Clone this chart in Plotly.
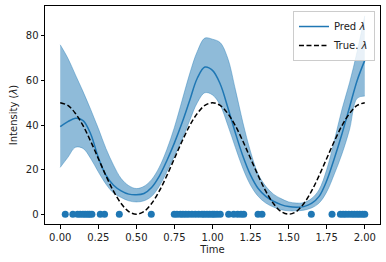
import plotly.graph_objects as go

t = [round(0.05 * i, 2) for i in range(41)]

pred = [39.3, 41.5, 43.0, 42.0, 36.0, 25.5, 17.5, 13.0, 10.5, 9.0, 8.7, 9.3, 12.0, 17.0, 24.0, 32.0,
        41.0, 51.0, 61.0, 66.0, 64.5, 58.5, 48.0, 36.5, 26.0, 17.5, 11.5, 8.0, 5.8, 4.3, 3.4, 3.1,
        3.4, 4.8, 8.0, 15.0, 25.0, 36.0, 48.0, 60.0, 69.0]

upper = [76.0, 70.0, 62.5, 55.0, 47.0, 38.5, 29.5, 22.0, 16.0, 12.8, 11.5, 12.5, 15.5, 21.0, 29.0, 39.0,
         51.0, 63.0, 73.0, 79.0, 78.5, 77.0, 70.0, 56.0, 41.0, 28.0, 18.0, 12.5, 9.0, 7.0, 5.5, 5.0,
         5.2, 7.0, 11.0, 20.0, 33.0, 47.0, 59.0, 73.0, 89.0]

lower = [21.0, 25.5, 30.0, 29.5, 25.0, 19.0, 13.5, 9.5, 7.5, 6.0, 5.5, 6.0, 8.0, 12.5, 19.0, 26.0,
         33.5, 42.0, 50.0, 54.5, 53.5, 49.0, 40.0, 30.0, 20.5, 13.0, 8.0, 5.0, 3.2, 2.0, 1.5, 1.5,
         1.8, 2.8, 5.0, 10.0, 18.0, 27.0, 38.0, 52.0, 53.0]

true_lam = [50.0, 48.8, 45.2, 39.7, 32.7, 25.0, 17.3, 10.3, 4.8, 1.2, 0.0, 1.2, 4.8, 10.3, 17.3, 25.0,
            32.7, 39.7, 45.2, 48.8, 50.0, 48.8, 45.2, 39.7, 32.7, 25.0, 17.3, 10.3, 4.8, 1.2, 0.0, 1.2,
            4.8, 10.3, 17.3, 25.0, 32.7, 39.7, 45.2, 48.8, 50.0]

events = [0.033, 0.083, 0.114, 0.131, 0.149, 0.164, 0.18, 0.193, 0.208, 0.263, 0.291, 0.388, 0.598,
          0.749, 0.767, 0.789, 0.806, 0.824, 0.843, 0.865, 0.887, 0.909, 0.931, 0.946, 0.964, 0.981,
          0.999, 1.012, 1.03, 1.051, 1.106, 1.139, 1.165, 1.187, 1.205, 1.299, 1.325, 1.649, 1.785,
          1.84, 1.858, 1.875, 1.895, 1.915, 1.932, 1.95, 1.967, 1.985, 2.0]

BLUE = "#1f77b4"
FILL = "rgba(31,119,180,0.5)"
FONT = "DejaVu Sans"

fig = go.Figure()
fig.add_trace(go.Scatter(x=t, y=lower, mode="lines", line=dict(color=FILL, width=0.8, shape="spline"),
                         showlegend=False, hoverinfo="skip"))
fig.add_trace(go.Scatter(x=t, y=upper, mode="lines", line=dict(color=FILL, width=0.8, shape="spline"),
                         fill="tonexty", fillcolor=FILL, showlegend=False, hoverinfo="skip"))
fig.add_trace(go.Scatter(x=t, y=pred, mode="lines", name="Pred <i>λ</i>",
                         line=dict(color=BLUE, width=1.5, shape="spline")))
fig.add_trace(go.Scatter(x=t, y=true_lam, mode="lines", name="True. <i>λ</i>",
                         line=dict(color="black", width=1.5, dash="5px,2.5px", shape="spline")))
fig.add_trace(go.Scatter(x=events, y=[0] * len(events), mode="markers", showlegend=False,
                         marker=dict(color=BLUE, size=7, line=dict(width=0))))

axis_common = dict(showgrid=False, zeroline=False, showline=True, linecolor="black", linewidth=1,
                   mirror=True, ticks="outside", ticklen=3.5, tickwidth=0.8, tickcolor="black",
                   tickfont=dict(family=FONT, size=10, color="#222"))

fig.update_layout(
    width=386, height=262,
    margin=dict(l=45, r=6, t=6, b=38),
    plot_bgcolor="white", paper_bgcolor="white",
    font=dict(family=FONT, size=10, color="#222"),
    xaxis=dict(range=[-0.1, 2.1], tickvals=[0, 0.25, 0.5, 0.75, 1.0, 1.25, 1.5, 1.75, 2.0],
               tickformat=".2f", title=dict(text="Time", standoff=4, font=dict(size=10)), **axis_common),
    yaxis=dict(range=[-4.4, 93.4], tickvals=[0, 20, 40, 60, 80],
               title=dict(text="Intensity (<i>λ</i>)", standoff=6, font=dict(size=10)), **axis_common),
    legend=dict(x=0.985, y=0.977, xanchor="right", yanchor="top", bgcolor="rgba(255,255,255,0.8)",
                bordercolor="#cccccc", borderwidth=1, font=dict(family=FONT, size=10),
                itemwidth=30, tracegroupgap=0, traceorder="normal"),
)

fig.write_html("out.html")
